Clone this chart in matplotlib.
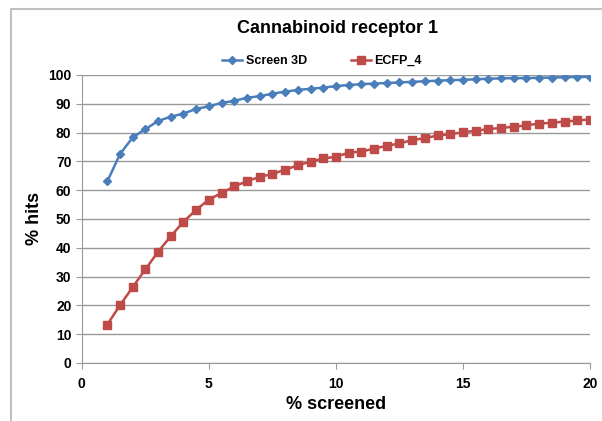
import matplotlib
matplotlib.use("Agg")
import matplotlib.pyplot as plt
from matplotlib.lines import Line2D

pct_screened = [1 + 0.5 * i for i in range(39)]
screen3d = [63, 72.5, 78.3, 81.2, 84, 85.5, 86.6, 88.2, 89.1, 90.3, 91, 92.1, 92.6, 93.5,
            94.2, 94.8, 95.2, 95.6, 96.1, 96.5, 96.8, 97, 97.2, 97.4, 97.6, 97.8, 98, 98.2,
            98.3, 98.5, 98.7, 98.8, 98.9, 98.9, 99, 99.1, 99.2, 99.3, 99.3]
ecfp4 = [13.3, 20, 26.3, 32.5, 38.6, 44, 49, 53.2, 56.7, 59, 61.3, 63.1, 64.6, 65.6,
         67.1, 68.6, 69.9, 71, 71.6, 73, 73.4, 74.4, 75.4, 76.2, 77.4, 78, 79, 79.4,
         80.1, 80.6, 81.2, 81.6, 82, 82.5, 83.1, 83.4, 83.8, 84.2, 84.5]
xticks = [0, 5, 10, 15, 20]
yticks = list(range(0, 101, 10))

plt.rcParams['font.family'] = ['Liberation Sans', 'DejaVu Sans']

fig = plt.figure(figsize=(6.02, 4.21), dpi=100)
# chart frame: only left and top edges show in the crop
fig.add_artist(Line2D([11 / 602, 11 / 602, 1], [0, 1 - 9 / 421, 1 - 9 / 421],
                      transform=fig.transFigure, color='#c0c0c0', linewidth=1.5))
ax = fig.add_axes([0.136, 0.138, 0.844, 0.684])

ax.plot(pct_screened, screen3d, color='#4a7ebb', marker='D', markersize=4,
        linewidth=1.8, label='Screen 3D')
ax.plot(pct_screened, ecfp4, color='#be4b48', marker='s', markersize=5.5,
        linewidth=1.8, label='ECFP_4')

ax.set_xlim(0, 20)
ax.set_ylim(0, 100)
ax.set_xticks(xticks)
ax.set_yticks(yticks)
ax.grid(axis='y', color='#999999', linewidth=1)
ax.set_axisbelow(True)
for s in ['top', 'right']:
    ax.spines[s].set_visible(False)
for s in ['left', 'bottom']:
    ax.spines[s].set_color('#999999')
ax.tick_params(axis='both', colors='#999999', labelcolor='black', length=4,
               labelsize=10)
ax.tick_params(axis='x', pad=6)
for lab in ax.get_xticklabels() + ax.get_yticklabels():
    lab.set_fontweight('bold')

ax.set_xlabel('% screened', fontsize=13, fontweight='bold', labelpad=4)
ax.set_ylabel('% hits', fontsize=13, fontweight='bold')
fig.text(0.56, 0.932, 'Cannabinoid receptor 1', ha='center', va='center',
         fontsize=13, fontweight='bold')
leg = fig.legend(loc='center', bbox_to_anchor=(0.535, 0.855), ncol=2, frameon=False,
                 prop={'weight': 'bold', 'size': 9}, handlelength=1.6,
                 handletextpad=0.3, columnspacing=3.5)

fig.savefig('out.png', dpi=100)
